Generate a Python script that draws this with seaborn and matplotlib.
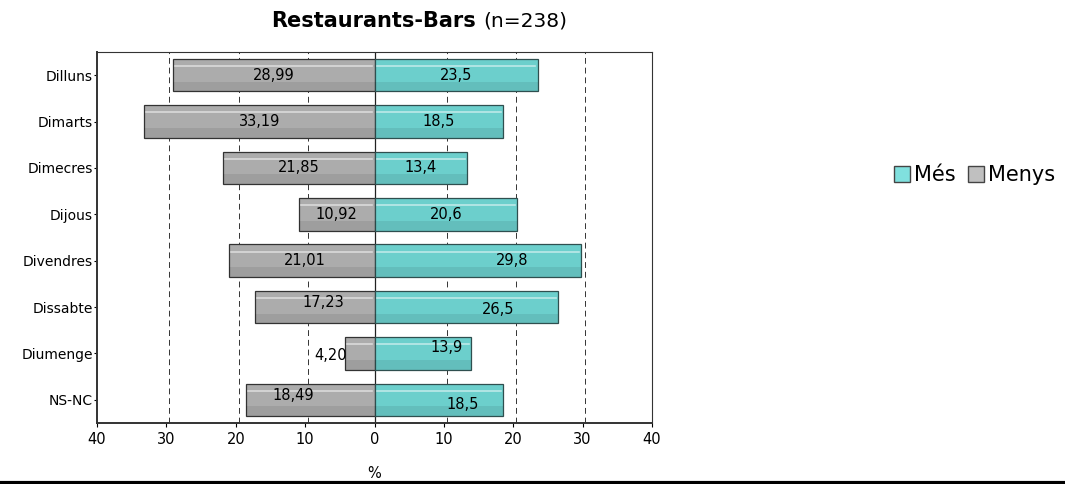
import numpy as np
import pandas as pd
import seaborn as sns
import matplotlib.pyplot as plt
from matplotlib.patches import Patch
from matplotlib.lines import Line2D

# dades
dies = ["Dilluns", "Dimarts", "Dimecres", "Dijous", "Divendres", "Dissabte", "Diumenge", "NS-NC"]
mes = [23.5, 18.5, 13.4, 20.6, 29.8, 26.5, 13.9, 18.5]
menys = [28.99, 33.19, 21.85, 10.92, 21.01, 17.23, 4.20, 18.49]
mes_txt = ["23,5", "18,5", "13,4", "20,6", "29,8", "26,5", "13,9", "18,5"]
menys_txt = ["28,99", "33,19", "21,85", "10,92", "21,01", "17,23", "4,20", "18,49"]

# petits desplaçaments de les etiquetes (com a l'original)
mes_dx = [0, 0, 0, 0, 5, 4.5, 3.5, 3.5]
mes_dy = [0, 0, 0, 0, 0, 0.05, -0.12, 0.1]
menys_dx = [0, 0, 0, 0, 0.4, 1.2, -4.2, -2.5]
menys_dy = [0, 0, 0, 0, 0, -0.1, 0.05, -0.1]

df = pd.DataFrame({"dia": dies, "Més": mes, "Menys": [-v for v in menys]})

plt.rcParams['font.family'] = ['DejaVu Sans']
fig = plt.figure(figsize=(10.65, 4.84), dpi=100)
ax = fig.add_axes([97 / 1065, 1 - 423 / 484, (652 - 97) / 1065, (423 - 52) / 484])

cian = "#6ccfcc"
gris = "#acacac"
sns.barplot(data=df, x="Menys", y="dia", color=gris, width=0.7, edgecolor="#333333",
            linewidth=0.9, saturation=1, ax=ax, zorder=3)
sns.barplot(data=df, x="Més", y="dia", color=cian, width=0.7, edgecolor="#2f4f4f",
            linewidth=0.9, saturation=1, ax=ax, zorder=3)

# reflex per simular el cilindre
for p in ax.patches:
    x0, y0 = p.get_x(), p.get_y()
    w, h = p.get_width(), p.get_height()
    ax.plot([x0 + 0.3 * np.sign(w), x0 + w - 0.3 * np.sign(w)], [y0 + 0.22 * h] * 2,
            color="white", alpha=0.55, lw=1.2, zorder=4)
    ax.fill_between([x0, x0 + w], y0 + 0.7 * h, y0 + h, color="black", alpha=0.08,
                    zorder=4, linewidth=0)

for i in range(len(dies)):
    ax.text(mes[i] / 2 + mes_dx[i], i + mes_dy[i], mes_txt[i], ha="center", va="center",
            fontsize=10.5, zorder=5)
    ax.text(-menys[i] / 2 + menys_dx[i], i + menys_dy[i], menys_txt[i], ha="center",
            va="center", fontsize=10.5, zorder=5)

ax.set_xlim(-40, 40)
ax.set_ylim(len(dies) - 0.5, -0.5)
ax.set_xticks(range(-40, 41, 10))
ax.set_xticklabels([str(abs(t)) for t in range(-40, 41, 10)], fontsize=10.5)
ax.tick_params(axis="y", labelsize=10, length=2, pad=1)
ax.tick_params(axis="x", length=3)
for t in [-30, -20, -10, 10, 20, 30]:
    ax.axvline(t + 0.4, color="#333333", lw=0.7, ls=(0, (6, 4)), zorder=1)
ax.axvline(0, color="#222222", lw=0.9, zorder=2)
for s in ax.spines.values():
    s.set_color("#333333")
    s.set_linewidth(0.8)
ax.spines["left"].set_linewidth(1.4)
ax.spines["bottom"].set_linewidth(1.4)
ax.set_ylabel("")
ax.set_xlabel("%", fontsize=10.5, labelpad=14)

fig.text(0.447, 0.957, "Restaurants-Bars", fontsize=15, fontweight="bold", ha="right", va="center")
fig.text(0.4535, 0.957, "(n=238)", fontsize=14.5, ha="left", va="center")

handles = [Patch(facecolor="#80e0de", edgecolor="#444444", label="Més"),
           Patch(facecolor="#c0c0c0", edgecolor="#444444", label="Menys")]
fig.legend(handles=handles, loc="center", bbox_to_anchor=(0.915, 0.638), ncol=2, frameon=False,
           fontsize=15, handlelength=0.75, handleheight=0.75, handletextpad=0.2,
           columnspacing=0.6)

fig.add_artist(Line2D([0, 1], [0.003, 0.003], color="black", lw=3, transform=fig.transFigure))

fig.savefig("out.png", dpi=100)
